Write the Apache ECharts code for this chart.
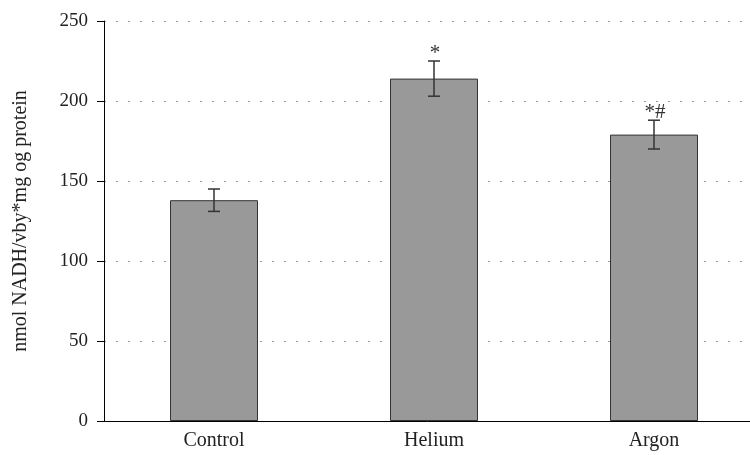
<!DOCTYPE html>
<html><head><meta charset="utf-8">
<script src="https://cdn.jsdelivr.net/npm/echarts@6/dist/echarts.min.js"></script>
<style>html,body{margin:0;padding:0;background:#fff}#c{width:750px;height:455px}</style>
</head><body><div id="c"></div>
<script>
const categories = ['Control', 'Helium', 'Argon'];
const values = [138, 214, 179];
const errors = [7, 11, 9];
const marks = ['', '*', '*#'];
const yTicks = [0, 50, 100, 150, 200, 250];

const font = 'Liberation Serif';
const chart = echarts.init(document.getElementById('c'));
chart.setOption({
  animation: false,
  grid: { left: 104, top: 21, right: -14, bottom: 34, outerBoundsMode: 'none', containLabel: false },
  xAxis: {
    type: 'category', data: categories,
    axisLine: { lineStyle: { color: '#000', width: 1 } },
    axisTick: { alignWithLabel: true, length: 6, lineStyle: { color: '#000' } },
    axisLabel: { color: '#222', fontFamily: font, fontSize: 20, margin: 10 }
  },
  yAxis: {
    type: 'value', min: 0, max: 250, interval: 50,
    name: 'nmol NADH/vby*mg og protein', nameLocation: 'middle', nameGap: 73,
    nameTextStyle: { color: '#222', fontFamily: font, fontSize: 20 },
    axisLine: { show: true, lineStyle: { color: '#000', width: 1 } },
    axisTick: { show: true, length: 7, lineStyle: { color: '#000' } },
    axisLabel: { color: '#222', fontFamily: font, fontSize: 19, margin: 16,
      formatter: v => yTicks.includes(v) ? String(v) : '' },
    splitLine: { show: true, lineStyle: { color: '#999', type: [2, 10], width: 1 } }
  },
  series: [
    {
      type: 'bar', data: values, barWidth: '40%',
      itemStyle: { color: '#999999', borderColor: '#333', borderWidth: 1 }
    },
    {
      type: 'custom',
      data: categories.map((c, i) => [i, values[i], errors[i]]),
      renderItem: function (params, api) {
        const i = api.value(0), v = api.value(1), e = api.value(2);
        const top = api.coord([i, v + e]);
        const bot = api.coord([i, v - e]);
        const hw = 6;
        const children = [
          { type: 'line', shape: { x1: top[0], y1: top[1], x2: bot[0], y2: bot[1] }, style: { stroke: '#333', lineWidth: 1.5 } },
          { type: 'line', shape: { x1: top[0] - hw, y1: top[1], x2: top[0] + hw, y2: top[1] }, style: { stroke: '#333', lineWidth: 1.5 } },
          { type: 'line', shape: { x1: bot[0] - hw, y1: bot[1], x2: bot[0] + hw, y2: bot[1] }, style: { stroke: '#333', lineWidth: 1.5 } }
        ];
        const m = marks[i];
        if (m) {
          children.push({ type: 'text', style: { text: m, x: top[0] + 1, y: top[1] + 3,
            align: 'center', verticalAlign: 'bottom', fill: '#333', font: '21px "Liberation Serif"' } });
        }
        return { type: 'group', children: children };
      },
      z: 5
    }
  ]
});
</script>
</body></html>
